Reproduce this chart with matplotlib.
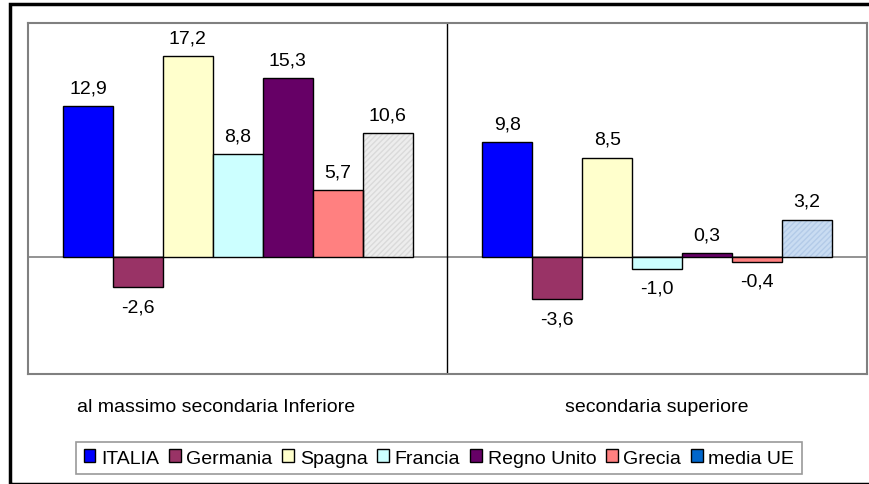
import matplotlib
matplotlib.use("Agg")
import matplotlib.pyplot as plt
from matplotlib.patches import Rectangle, Patch
import numpy as np

plt.rcParams['font.family'] = ['Liberation Sans', 'DejaVu Sans']

groups = ["al massimo secondaria Inferiore", "secondaria superiore"]
countries = ["ITALIA", "Germania", "Spagna", "Francia", "Regno Unito", "Grecia", "media UE"]
values_inf = [12.9, -2.6, 17.2, 8.8, 15.3, 5.7, 10.6]
values_sup = [9.8, -3.6, 8.5, -1.0, 0.3, -0.4, 3.2]

colors = ["#0000FF", "#993366", "#FFFFCC", "#CCFFFF", "#660066", "#FF8080", "#0066CC"]
ue_fill = ["#EDEDED", "#C9DCF2"]
ue_hatch = ["#DADADA", "#B3CBE8"]

FS = 14
W, H = 870, 485
fig = plt.figure(figsize=(W / 100, H / 100), dpi=100)

# outer frame
fig.patches.append(Rectangle((10 / W, 0), 2, 1 - 5 / H, transform=fig.transFigure,
                             fill=False, edgecolor="black", linewidth=2.5, zorder=0))

ax = fig.add_axes([28 / W, 110 / H, (867 - 28) / W, (375 - 24) / H])
ax.set_xlim(-0.5, 1.5)
ax.set_ylim(-10, 20)

bw = 50 / 420
n = len(countries)
offsets = (np.arange(n) - (n - 1) / 2) * bw

for g, vals in enumerate([values_inf, values_sup]):
    for i, v in enumerate(vals):
        x = g + offsets[i]
        if i == n - 1:
            ax.bar(x, v, width=bw, color=ue_fill[g], hatch="//////",
                   edgecolor=ue_hatch[g], linewidth=0, zorder=2)
            ax.bar(x, v, width=bw, fill=False, edgecolor="black", linewidth=1.0, zorder=3)
        else:
            ax.bar(x, v, width=bw, color=colors[i], edgecolor="black",
                   linewidth=1.0, zorder=3)
        label = f"{v:.1f}".replace(".", ",")
        if v >= 0:
            ax.annotate(label, (x, v), xytext=(0, 7), textcoords="offset points",
                        ha="center", va="bottom", fontsize=FS)
        else:
            ax.annotate(label, (x, v), xytext=(0, -8), textcoords="offset points",
                        ha="center", va="top", fontsize=FS)

ax.axhline(0, color="#808080", linewidth=1.2, zorder=1)
ax.axvline(0.5, color="black", linewidth=1.0, zorder=1)

for s in ax.spines.values():
    s.set_color("#808080")
    s.set_linewidth(1.5)
ax.set_xticks([])
ax.set_yticks([])

# category labels
ax.text(-0.052, -12.8, groups[0], ha="center", va="center", fontsize=FS)
ax.text(1.0, -12.8, groups[1], ha="center", va="center", fontsize=FS)

handles = [Patch(facecolor=c, edgecolor="black", linewidth=1.0) for c in colors]
leg = fig.legend(handles, countries, loc="center", bbox_to_anchor=(439 / W, 1 - 459 / H),
                 ncol=n, fontsize=FS, frameon=True, fancybox=False, shadow=False,
                 handlelength=0.6, handleheight=0.6, handletextpad=0.3,
                 columnspacing=0.5, borderpad=0.4, borderaxespad=0)
leg.get_frame().set_edgecolor("#808080")
leg.get_frame().set_linewidth(1.2)

fig.savefig("out.png", dpi=100)
